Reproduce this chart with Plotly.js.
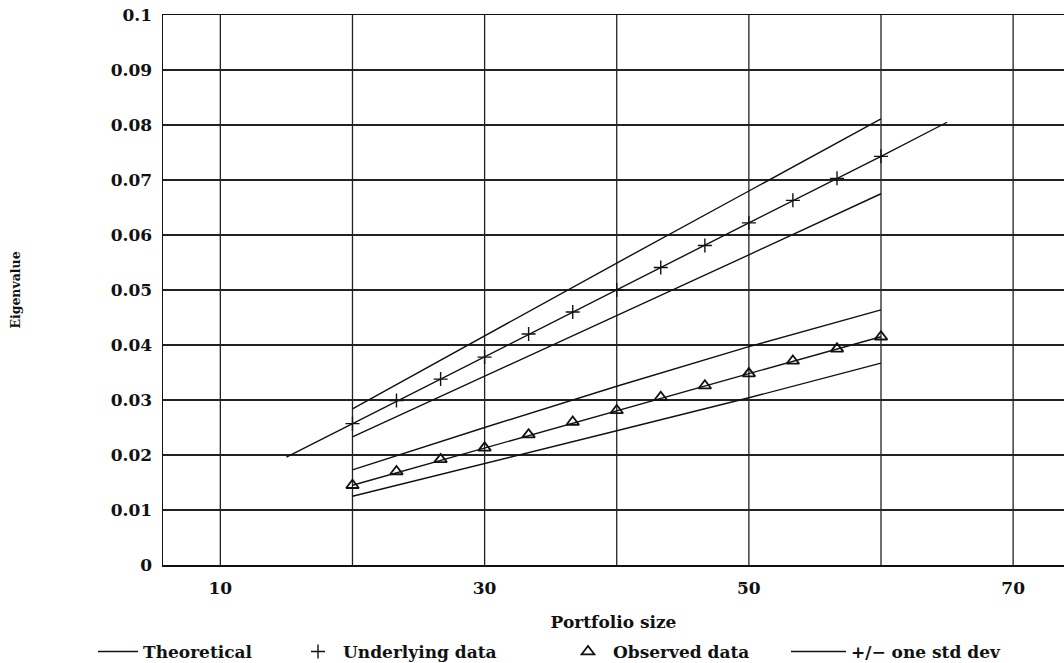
<!DOCTYPE html>
<html>
<head>
<meta charset="utf-8">
<script src="https://cdn.plot.ly/plotly-3.0.1.min.js"></script>
<style>html,body{margin:0;padding:0;background:#fff;}#chart{width:1064px;height:663px;}</style>
</head>
<body>
<div id="chart"></div>
<script>
// Upper group: underlying data
const underlyingX = [20, 23.33, 26.67, 30, 33.33, 36.67, 40, 43.33, 46.67, 50, 53.33, 56.67, 60];
const underlyingY = [0.0257, 0.0299, 0.0338, 0.0378, 0.0420, 0.0460, 0.0500, 0.0541, 0.0581, 0.0622, 0.0663, 0.0703, 0.0743];
// Lower group: observed data
const observedX = [20, 23.33, 26.67, 30, 33.33, 36.67, 40, 43.33, 46.67, 50, 53.33, 56.67, 60];
const observedY = [0.0145, 0.0170, 0.0192, 0.0213, 0.0237, 0.0260, 0.0281, 0.0305, 0.0326, 0.0348, 0.0371, 0.0393, 0.0415];
// Theoretical lines
const theoUpperX = [15, 20, 30, 40, 50, 60, 65];
const theoUpperY = [0.0196, 0.0257, 0.0378, 0.0500, 0.0622, 0.0743, 0.0805];
const theoLowerX = [20, 30, 40, 50, 60];
const theoLowerY = [0.0145, 0.0213, 0.0281, 0.0348, 0.0415];
// +/- one std dev bands
const bandX = [20, 30, 40, 50, 60];
const undUpper = [0.0284, 0.0417, 0.0549, 0.0680, 0.0811];
const undLower = [0.0233, 0.0343, 0.0453, 0.0564, 0.0675];
const obsUpper = [0.0173, 0.0250, 0.0325, 0.0397, 0.0464];
const obsLower = [0.0125, 0.0184, 0.0244, 0.0304, 0.0367];
// Axis ticks
const yTicks = [0, 0.01, 0.02, 0.03, 0.04, 0.05, 0.06, 0.07, 0.08, 0.09, 0.1];
const yTickText = ['0', '0.01', '0.02', '0.03', '0.04', '0.05', '0.06', '0.07', '0.08', '0.09', '0.1'];
const xTicks = [10, 30, 50, 70];
const xTickText = ['10', '30', '50', '70'];
const xGrid = [10, 20, 30, 40, 50, 60, 70];

const FONT = 'DejaVu Serif';
const lineStyle = {color: '#111', width: 1.4};
const legFont = {family: FONT, size: 17, weight: 'bold', color: '#111'};

const traces = [
  {x: theoUpperX, y: theoUpperY, mode: 'lines', line: lineStyle, name: 'Theoretical', legend: 'legend', legendgroup: 'theo', showlegend: true},
  {x: theoLowerX, y: theoLowerY, mode: 'lines', line: lineStyle, name: 'Theoretical', legend: 'legend', legendgroup: 'theo', showlegend: false},
  {x: underlyingX, y: underlyingY, mode: 'markers', name: 'Underlying data', legend: 'legend2',
   marker: {symbol: 'cross-thin-open', size: 10, color: '#111', line: {color: '#111', width: 1.4}}},
  {x: observedX, y: observedY, mode: 'markers', name: 'Observed data', legend: 'legend3',
   marker: {symbol: 'triangle-up-open', size: 11, color: '#111', line: {color: '#111', width: 1.8}}},
  {x: bandX, y: undUpper, mode: 'lines', line: lineStyle, name: '+/\u2212 one std dev', legend: 'legend4', legendgroup: 'sd', showlegend: true},
  {x: bandX, y: undLower, mode: 'lines', line: lineStyle, name: '+/\u2212 one std dev', legend: 'legend4', legendgroup: 'sd', showlegend: false},
  {x: bandX, y: obsUpper, mode: 'lines', line: lineStyle, name: '+/\u2212 one std dev', legend: 'legend4', legendgroup: 'sd', showlegend: false},
  {x: bandX, y: obsLower, mode: 'lines', line: lineStyle, name: '+/\u2212 one std dev', legend: 'legend4', legendgroup: 'sd', showlegend: false}
];

// vertical gridlines at every 10 (labels only at 10,30,50,70)
const shapes = xGrid.map(v => ({type: 'line', xref: 'x', yref: 'paper', x0: v, x1: v, y0: 0, y1: 1,
  line: {color: '#222', width: 1.3}, layer: 'below'}));

function leg(px, iw) {
  return {xref: 'container', yref: 'container', x: px / 1064, y: 1 - 652 / 663, xanchor: 'left', yanchor: 'middle',
    orientation: 'h', font: legFont, itemwidth: iw, bgcolor: 'rgba(0,0,0,0)', borderwidth: 0};
}

const layout = {
  width: 1064, height: 663,
  margin: {l: 163, r: 0, t: 15, b: 98, autoexpand: false},
  paper_bgcolor: '#fff', plot_bgcolor: '#fff',
  font: {family: FONT, color: '#111', size: 14},
  showlegend: true,
  legend: leg(93, 40),
  legend2: leg(293, 40),
  legend3: leg(563, 40),
  legend4: leg(786, 55),
  xaxis: {range: [5.66, 73.85], tickvals: xTicks, ticktext: xTickText, showgrid: false, zeroline: false,
    showline: true, linecolor: '#111', linewidth: 1.5, mirror: true, ticks: '', ticklabelstandoff: 7,
    tickfont: {family: FONT, size: 17, weight: 'bold', color: '#111'},
    title: {text: 'Portfolio size', font: {family: FONT, size: 17, weight: 'bold', color: '#111'}, standoff: 19}},
  yaxis: {range: [0, 0.1], tickvals: yTicks, ticktext: yTickText, showgrid: true, gridcolor: '#222', gridwidth: 1.3,
    zeroline: false, showline: true, linecolor: '#111', linewidth: 1.5, mirror: true, ticks: '', ticklabelstandoff: 6,
    tickfont: {family: FONT, size: 17, weight: 'bold', color: '#111'},
    title: {text: 'Eigenvalue', font: {family: FONT, size: 12.5, weight: 'bold', color: '#111'}, standoff: 87}},
  shapes: shapes
};

Plotly.newPlot('chart', traces, layout, {staticPlot: true, displayModeBar: false});
</script>
</body>
</html>
